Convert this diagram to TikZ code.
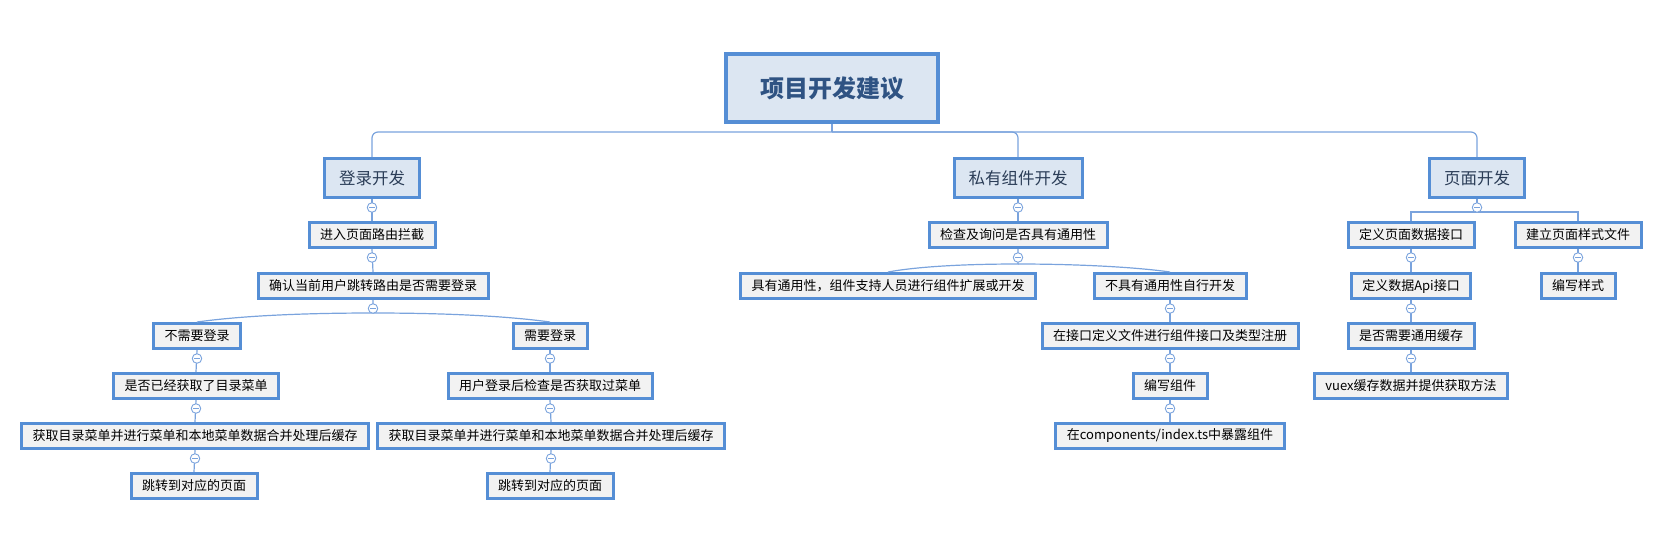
\documentclass[tikz,border=0pt]{standalone}
\usepackage{fontspec}
\setmainfont{Noto Sans CJK SC}
\usepackage{tikz}
\usetikzlibrary{calc}
\definecolor{boxblue}{RGB}{85,142,213}
\definecolor{topicfill}{RGB}{220,230,242}
\definecolor{leaffill}{RGB}{242,242,242}
\definecolor{linkblue}{RGB}{122,163,221}
\definecolor{roottext}{RGB}{47,83,131}
\definecolor{topictext}{RGB}{43,61,87}

\begin{document}
\begin{tikzpicture}[x=1pt,y=-1pt,
	root/.style={draw=boxblue,line width=4pt,fill=topicfill,text=roottext,minimum width=212pt,minimum height=68pt,font=\fontsize{24}{24}\selectfont\bfseries},
	topic/.style={draw=boxblue,line width=3pt,fill=topicfill,text=topictext,minimum height=39pt,inner xsep=14.5pt,inner ysep=0pt,font=\fontsize{16.5}{16.5}\selectfont},
	leaf/.style={draw=boxblue,line width=3pt,fill=leaffill,text=black,minimum height=25pt,inner xsep=11pt,inner ysep=0pt,font=\fontsize{13}{13}\selectfont},
	link/.style={draw=linkblue,line width=1.2pt},
	fold/.style={circle,draw=linkblue,fill=white,line width=0.9pt,minimum size=9.5pt,inner sep=0pt,
		path picture={\draw[linkblue,line width=0.9pt] ([xshift=-2.8pt]path picture bounding box.center) -- ([xshift=2.8pt]path picture bounding box.center);}}]
	\useasboundingbox (0,0) rectangle (1664,550);
	\node[root] (root) at (832,88) {项目开发建议};
	\node[topic] (login) at (372,178) {登录开发};
	\node[topic] (comp) at (1018,178) {私有组件开发};
	\node[topic] (page) at (1477,178) {页面开发};
	\node[leaf] (route) at (372,235) {进入页面路由拦截};
	\node[leaf] (needchk) at (373,286) {确认当前用户跳转路由是否需要登录};
	\node[leaf] (nologin) at (197,336) {不需要登录};
	\node[leaf] (haslist) at (196,386) {是否已经获取了目录菜单};
	\node[leaf] (mergeA) at (195,436) {获取目录菜单并进行菜单和本地菜单数据合并处理后缓存};
	\node[leaf] (jumpA) at (194,486) {跳转到对应的页面};
	\node[leaf] (dologin) at (550,336) {需要登录};
	\node[leaf] (afterlogin) at (550,386) {用户登录后检查是否获取过菜单};
	\node[leaf] (mergeB) at (551,436) {获取目录菜单并进行菜单和本地菜单数据合并处理后缓存};
	\node[leaf] (jumpB) at (550,486) {跳转到对应的页面};
	\node[leaf] (generic) at (1018,235) {检查及询问是否具有通用性};
	\node[leaf] (shared) at (888,286) {具有通用性，组件支持人员进行组件扩展或开发};
	\node[leaf] (own) at (1170,286) {不具有通用性自行开发};
	\node[leaf] (register) at (1170,336) {在接口定义文件进行组件接口及类型注册};
	\node[leaf] (write) at (1170,386) {编写组件};
	\node[leaf] (expose) at (1170,436) {在components/index.ts中暴露组件};
	\node[leaf] (pageapi) at (1411,235) {定义页面数据接口};
	\node[leaf] (dataapi) at (1411,286) {定义数据Api接口};
	\node[leaf] (cache) at (1411,336) {是否需要通用缓存};
	\node[leaf] (vuex) at (1411,386) {vuex缓存数据并提供获取方法};
	\node[leaf] (stylefile) at (1578,235) {建立页面样式文件};
	\node[leaf] (writestyle) at (1578,286) {编写样式};
	\coordinate (bus) at (832,132);
	\coordinate (loginsplit) at (373,313);
	\coordinate (compsplit) at (1018,264);
	\coordinate (pagesplit) at (1477,212);
	\draw[link] (root.south) -- (bus);
	\draw[link,rounded corners=6pt] (bus) -| (login.north);
	\draw[link,rounded corners=6pt] (bus) -| (comp.north);
	\draw[link,rounded corners=6pt] (bus) -| (page.north);
	\foreach \a/\b in {login/route,route/needchk,nologin/haslist,haslist/mergeA,mergeA/jumpA,dologin/afterlogin,afterlogin/mergeB,mergeB/jumpB,comp/generic,own/register,register/write,write/expose,pageapi/dataapi,dataapi/cache,cache/vuex,stylefile/writestyle}
		\draw[link] (\a.south) -- (\b.north);
	\draw[link] (needchk.south) -- (loginsplit) .. controls (300,313) and (240,316) .. (nologin.north);
	\draw[link] (loginsplit) .. controls (446,313) and (506,316) .. (dologin.north);
	\draw[link] (generic.south) -- (compsplit) .. controls (960,264) and (915,267) .. (shared.north);
	\draw[link] (compsplit) .. controls (1076,264) and (1135,267) .. (own.north);
	\draw[link] (page.south) -- (pagesplit) -| (pageapi.north);
	\draw[link] (pagesplit) -| (stylefile.north);
	\foreach \n in {login,comp,page,route,needchk,nologin,haslist,mergeA,dologin,afterlogin,mergeB,generic,own,register,write,pageapi,dataapi,cache,stylefile}
		\node[fold] (\n-fold) at ([yshift=-8.5pt]\n.south) {};
\end{tikzpicture}
\end{document}
